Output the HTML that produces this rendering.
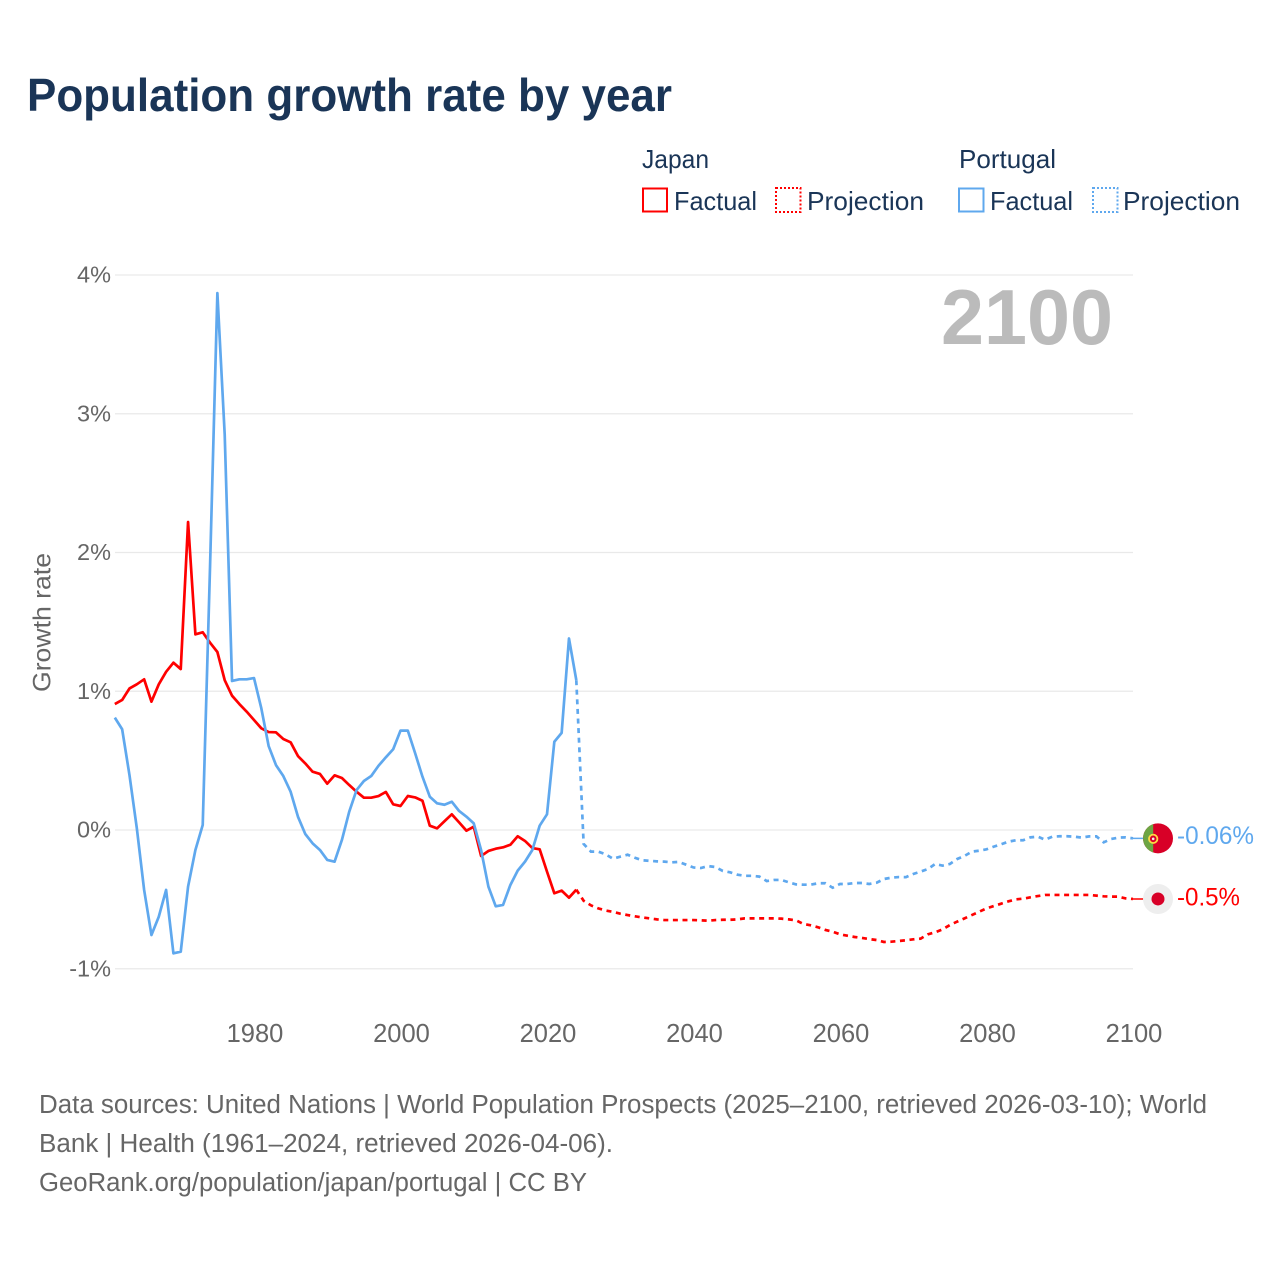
<!DOCTYPE html>
<html lang="en">
<head>
<meta charset="utf-8">
<title>Population growth rate by year</title>
<style>
html,body{margin:0;padding:0;background:#fff}
svg{display:block;font-family:"Liberation Sans",sans-serif}
</style>
</head>
<body>
<svg id="chart" xmlns="http://www.w3.org/2000/svg" width="1280" height="1280" viewBox="0 0 1280 1280">
  <text x="27" y="111" font-size="46" font-weight="700" fill="#1a3557" textLength="645" lengthAdjust="spacingAndGlyphs">Population growth rate by year</text>

  <g font-size="26" fill="#1a3557">
    <text x="642" y="168" textLength="67" lengthAdjust="spacingAndGlyphs">Japan</text>
    <text x="959" y="168" textLength="97" lengthAdjust="spacingAndGlyphs">Portugal</text>
    <rect x="643" y="188.5" width="24" height="23" fill="none" stroke="#ff0000" stroke-width="2"/>
    <text x="674" y="210" textLength="83" lengthAdjust="spacingAndGlyphs">Factual</text>
    <rect x="776" y="188" width="24.5" height="24" fill="none" stroke="#ff0000" stroke-width="2" stroke-dasharray="2 2"/>
    <text x="807" y="210" textLength="117" lengthAdjust="spacingAndGlyphs">Projection</text>
    <rect x="959" y="188.5" width="24.5" height="23" fill="none" stroke="#5fa8ee" stroke-width="2"/>
    <text x="990" y="210" textLength="83" lengthAdjust="spacingAndGlyphs">Factual</text>
    <rect x="1093" y="188" width="24.5" height="24" fill="none" stroke="#5fa8ee" stroke-width="2" stroke-dasharray="2 2"/>
    <text x="1123" y="210" textLength="117" lengthAdjust="spacingAndGlyphs">Projection</text>
  </g>

  <g id="grid"></g>
  <g id="yticks" font-size="23.5" fill="#666" text-anchor="end"></g>
  <g id="xticks" font-size="25.5" fill="#666" text-anchor="middle"></g>
  <text transform="translate(50.5 692) rotate(-90)" font-size="25" fill="#666" textLength="139" lengthAdjust="spacingAndGlyphs">Growth rate</text>
  <text x="941" y="344" font-size="78" font-weight="700" fill="#bbbbbb" textLength="172" lengthAdjust="spacingAndGlyphs">2100</text>

  <g id="series"></g>
  <g id="markers"></g>

  <g font-size="25.5" fill="#666">
    <text x="39" y="1113" textLength="1168" lengthAdjust="spacingAndGlyphs">Data sources: United Nations | World Population Prospects (2025–2100, retrieved 2026-03-10); World</text>
    <text x="39" y="1152" textLength="574" lengthAdjust="spacingAndGlyphs">Bank | Health (1961–2024, retrieved 2026-04-06).</text>
    <text x="39" y="1191" textLength="548" lengthAdjust="spacingAndGlyphs">GeoRank.org/population/japan/portugal | CC BY</text>
  </g>
</svg>
<script>
const factualStartYear = 1961;
const projectionStartYear = 2024;
const yTickValues = [4, 3, 2, 1, 0, -1];
const yTickLabels = ["4%", "3%", "2%", "1%", "0%", "-1%"];
const xTickValues = [1980, 2000, 2020, 2040, 2060, 2080, 2100];
const xTickLabels = ["1980", "2000", "2020", "2040", "2060", "2080", "2100"];
const japanEndLabel = "-0.5%";
const portugalEndLabel = "-0.06%";

const japanFactual = [
  0.908, 0.937, 1.02, 1.05, 1.086, 0.925, 1.05, 1.14, 1.206, 1.16,
  2.22, 1.41, 1.425, 1.35, 1.283, 1.08, 0.968, 0.908, 0.853, 0.793,
  0.733, 0.706, 0.704, 0.656, 0.632, 0.533, 0.48, 0.42, 0.404, 0.334,
  0.394, 0.375, 0.324, 0.276, 0.233, 0.233, 0.245, 0.274, 0.185, 0.173,
  0.245, 0.235, 0.211, 0.031, 0.012, 0.063, 0.113, 0.055, -0.005, 0.024,
  -0.187, -0.151, -0.135, -0.125, -0.106, -0.045, -0.079, -0.13, -0.139, -0.30,
  -0.456, -0.437, -0.488, -0.43
];
const portugalFactual = [
  0.81, 0.726, 0.396, 0.014, -0.432, -0.757, -0.625, -0.432, -0.889, -0.877,
  -0.408, -0.144, 0.036, 1.9, 3.87, 2.85, 1.074, 1.086, 1.086, 1.095,
  0.877, 0.605, 0.468, 0.389, 0.276, 0.096, -0.029, -0.096, -0.144, -0.216,
  -0.228, -0.072, 0.132, 0.288, 0.353, 0.389, 0.463, 0.524, 0.582, 0.716,
  0.716, 0.553, 0.384, 0.24, 0.192, 0.182, 0.204, 0.137, 0.096, 0.048,
  -0.144, -0.408, -0.55, -0.54, -0.396, -0.293, -0.228, -0.144, 0.031, 0.113,
  0.636, 0.70, 1.38, 1.08
];
const japanProjection = [
  -0.43, -0.51, -0.543, -0.565, -0.58, -0.59, -0.603, -0.613, -0.622, -0.63,
  -0.637, -0.644, -0.649, -0.649, -0.649, -0.649, -0.649, -0.651, -0.654, -0.649,
  -0.647, -0.647, -0.644, -0.637, -0.637, -0.637, -0.637, -0.637, -0.639, -0.644,
  -0.651, -0.677, -0.687, -0.701, -0.72, -0.733, -0.752, -0.762, -0.771, -0.778,
  -0.786, -0.793, -0.807, -0.805, -0.80, -0.795, -0.788, -0.783, -0.752, -0.737,
  -0.716, -0.685, -0.66, -0.637, -0.613, -0.589, -0.565, -0.548, -0.531, -0.514,
  -0.50, -0.495, -0.485, -0.476, -0.468, -0.468, -0.468, -0.468, -0.468, -0.468,
  -0.468, -0.473, -0.478, -0.48, -0.48, -0.493, -0.497
];
const portugalProjection = [
  1.08, -0.10, -0.156, -0.156, -0.175, -0.207, -0.192, -0.178, -0.20, -0.218,
  -0.222, -0.226, -0.228, -0.233, -0.23, -0.25, -0.27, -0.274, -0.26, -0.267,
  -0.295, -0.305, -0.322, -0.33, -0.33, -0.336, -0.368, -0.36, -0.36, -0.377,
  -0.392, -0.394, -0.394, -0.384, -0.384, -0.416, -0.389, -0.389, -0.382, -0.382,
  -0.389, -0.38, -0.353, -0.344, -0.339, -0.34, -0.317, -0.30, -0.281, -0.245,
  -0.257, -0.245, -0.209, -0.187, -0.156, -0.149, -0.139, -0.12, -0.103, -0.084,
  -0.074, -0.074, -0.053, -0.048, -0.07, -0.048, -0.045, -0.045, -0.048, -0.055,
  -0.046, -0.046, -0.089, -0.065, -0.055, -0.053, -0.06
];

const SVG_NS = "http://www.w3.org/2000/svg";
function xScale(year) { return 254 + (year - 1980) * 7.325; }
function yScale(value) { return 830 - value * 138.75; }
function make(tag, attrs, parent, text) {
  const el = document.createElementNS(SVG_NS, tag);
  for (const k in attrs) el.setAttribute(k, attrs[k]);
  if (text !== undefined) el.textContent = text;
  parent.appendChild(el);
  return el;
}
function pathFrom(values, startYear) {
  return values.map(function (v, i) {
    return (i ? "L" : "M") + xScale(startYear + i).toFixed(2) + " " + yScale(v).toFixed(2);
  }).join(" ");
}

const gridGroup = document.getElementById("grid");
const yTickGroup = document.getElementById("yticks");
const xTickGroup = document.getElementById("xticks");
const seriesGroup = document.getElementById("series");
const markerGroup = document.getElementById("markers");

yTickValues.forEach(function (v, i) {
  const line = make("line", { x1: 115, x2: 1133, y1: yScale(v), y2: yScale(v), stroke: "#e9e9e9", "stroke-width": 1.3 }, gridGroup);
  
  
  const label = make("text", { x: 111, y: yScale(v) + 7.5 }, yTickGroup, yTickLabels[i]);
  
  
});

xTickValues.forEach(function (year, i) {
  const label = make("text", { x: xScale(year) + 1, y: 1042 }, xTickGroup, xTickLabels[i]);
  
  
});

const japanProjectionLine = make("path", { d: pathFrom(japanProjection, projectionStartYear), fill: "none", stroke: "#ff0000", "stroke-width": 2.7, "stroke-dasharray": "5 4.6" }, seriesGroup);


const portugalProjectionLine = make("path", { d: pathFrom(portugalProjection, projectionStartYear), fill: "none", stroke: "#5fa8ee", "stroke-width": 2.7, "stroke-dasharray": "5 4.6" }, seriesGroup);


const japanFactualLine = make("path", { d: pathFrom(japanFactual, factualStartYear), fill: "none", stroke: "#ff0000", "stroke-width": 2.7, "stroke-linejoin": "round" }, seriesGroup);


const portugalFactualLine = make("path", { d: pathFrom(portugalFactual, factualStartYear), fill: "none", stroke: "#5fa8ee", "stroke-width": 2.7, "stroke-linejoin": "round" }, seriesGroup);



const endX = xScale(2100);
const japanEndY = yScale(japanProjection[japanProjection.length - 1]);
const portugalEndY = yScale(portugalProjection[portugalProjection.length - 1]);
const flagX = 1158;

const japanConnector = make("line", { x1: endX, x2: flagX, y1: japanEndY, y2: japanEndY, stroke: "#ff0000", "stroke-width": 1.5 }, markerGroup);


const portugalConnector = make("line", { x1: endX, x2: flagX, y1: portugalEndY, y2: portugalEndY, stroke: "#5fa8ee", "stroke-width": 1.5 }, markerGroup);



const japanFlag = make("g", { transform: "translate(" + flagX + " " + japanEndY + ")" }, markerGroup);


make("circle", { r: 15, fill: "#eeeeee" }, japanFlag);
make("circle", { r: 6.5, fill: "#d80027" }, japanFlag);

const portugalFlag = make("g", { transform: "translate(" + flagX + " " + portugalEndY + ")" }, markerGroup);


make("circle", { r: 15, fill: "#d80027" }, portugalFlag);
make("path", { d: "M-4.8 -14.2 A15 15 0 0 0 -4.8 14.2 Z", fill: "#6da544" }, portugalFlag);
make("circle", { cx: -4.8, cy: 0.5, r: 4.2, fill: "#d80027", stroke: "#ffda44", "stroke-width": 1.8 }, portugalFlag);
make("circle", { cx: -4.8, cy: 0.5, r: 1.3, fill: "#eeeeee" }, portugalFlag);

const japanEndText = make("text", { x: 1177, y: japanEndY + 6.5, "font-size": 25, fill: "#ff0000", textLength: 63, lengthAdjust: "spacingAndGlyphs" }, markerGroup, japanEndLabel);


const portugalEndText = make("text", { x: 1177, y: portugalEndY + 5.5, "font-size": 25, fill: "#5fa8ee", textLength: 77, lengthAdjust: "spacingAndGlyphs" }, markerGroup, portugalEndLabel);


</script>
</body>
</html>
